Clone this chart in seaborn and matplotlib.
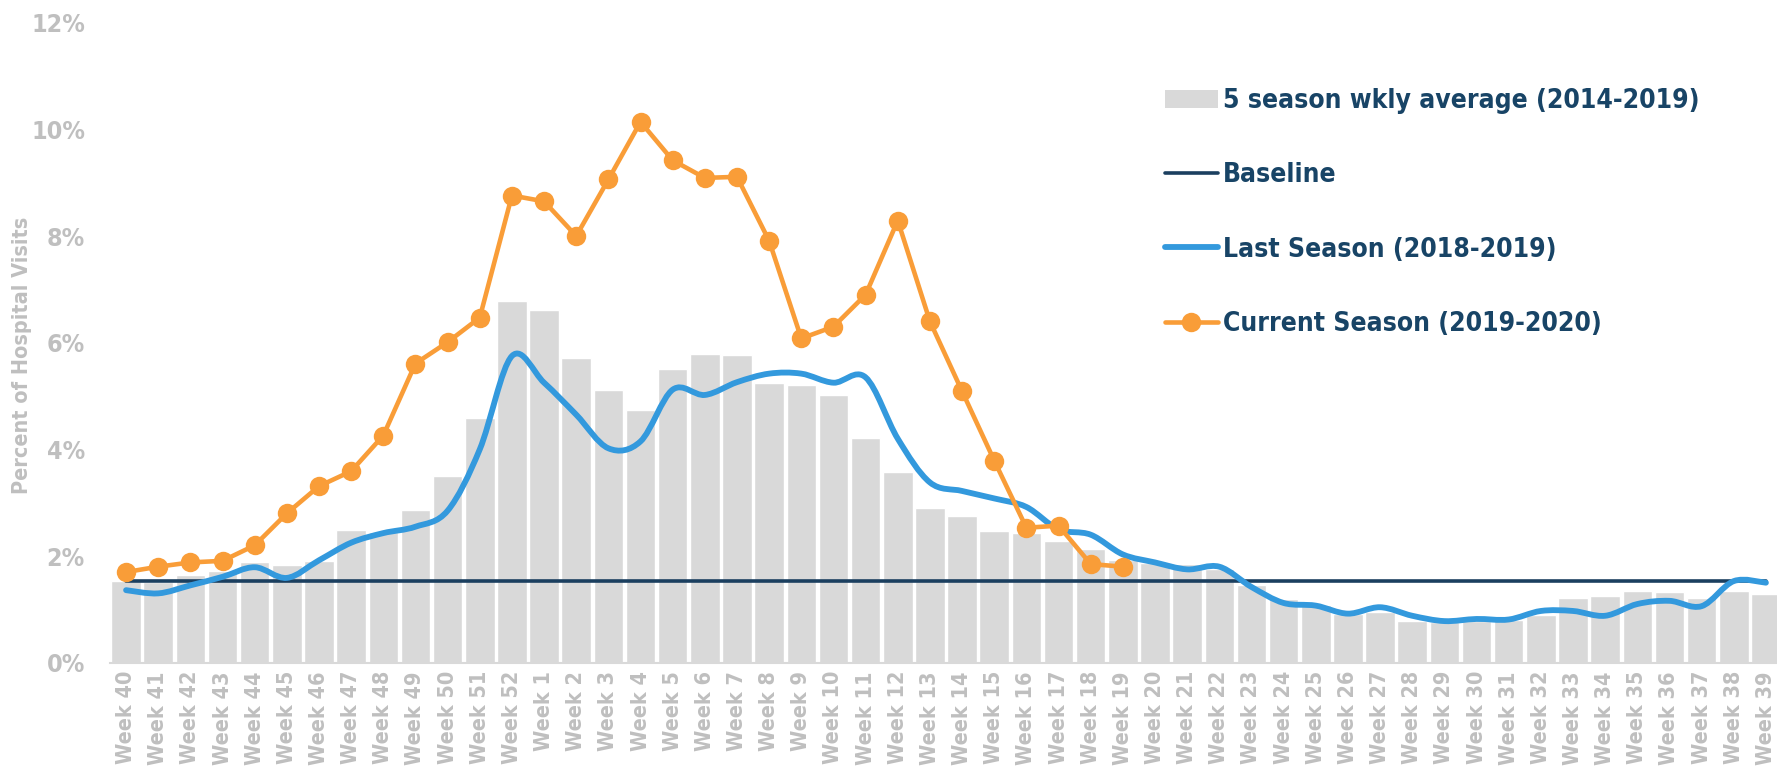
import numpy as np
import pandas as pd
import matplotlib
matplotlib.use("Agg")
import matplotlib.pyplot as plt
import seaborn as sns
from matplotlib import font_manager as fm
from matplotlib.path import Path
from matplotlib.patches import PathPatch, Patch
from matplotlib.lines import Line2D

# ---------------- data ----------------
weeks = [f"Week {w}" for w in list(range(40, 53)) + list(range(1, 40))]

avg_5season = [1.54, 1.52, 1.65, 1.72, 1.88, 1.83, 1.90, 2.48, 2.46, 2.86, 3.51, 4.58,
               6.79, 6.62, 5.72, 5.11, 4.74, 5.50, 5.79, 5.77, 5.25, 5.21, 5.02, 4.22,
               3.57, 2.90, 2.75, 2.47, 2.44, 2.28, 2.14, 1.93, 1.87, 1.86, 1.75, 1.45,
               1.20, 1.09, 0.92, 0.95, 0.78, 0.76, 0.78, 0.80, 0.90, 1.22, 1.25, 1.34,
               1.32, 1.21, 1.35, 1.29]

last_season = [1.36, 1.30, 1.45, 1.61, 1.79, 1.59, 1.92, 2.25, 2.43, 2.55, 2.85, 4.00,
               5.75, 5.25, 4.65, 4.02, 4.15, 5.12, 5.02, 5.26, 5.42, 5.42, 5.25, 5.35,
               4.20, 3.38, 3.22, 3.08, 2.92, 2.50, 2.40, 2.03, 1.88, 1.75, 1.80, 1.42,
               1.12, 1.07, 0.92, 1.04, 0.88, 0.78, 0.82, 0.81, 0.97, 0.97, 0.88, 1.10,
               1.16, 1.06, 1.53, 1.50]

current_season = [1.70, 1.80, 1.88, 1.91, 2.20, 2.80, 3.31, 3.59, 4.26, 5.61, 6.01, 6.47,
                  8.76, 8.65, 8.00, 9.06, 10.14, 9.42, 9.09, 9.11, 7.91, 6.08, 6.30, 6.90,
                  8.29, 6.40, 5.09, 3.79, 2.53, 2.57, 1.85, 1.80]

baseline_value = 1.53

y_ticks = [0, 2, 4, 6, 8, 10, 12]

labels = ["5 season wkly average (2014-2019)", "Baseline",
          "Last Season (2018-2019)", "Current Season (2019-2020)"]

# ---------------- styling ----------------
C_BAR = "#d9d9d9"
C_BASE = "#1b3f5f"
C_BLUE = "#3399dd"
C_ORANGE = "#f99d38"
C_TICK = "#bfbfbf"
C_LEG = "#184466"

sns.set_theme(style="white")
names = {f.name for f in fm.fontManager.ttflist}
if "Liberation Sans Narrow" in names:
    FONT = dict(family="Liberation Sans Narrow", weight="bold")
else:
    FONT = dict(family="DejaVu Sans", weight="bold", stretch="condensed")
plt.rcParams["font.family"] = [FONT["family"], "DejaVu Sans"]

W, H = 1777, 773
fig = plt.figure(figsize=(W / 100, H / 100), dpi=100)
left, right, top, bottom = 110, 1782, 22.7, 662.7
ax = fig.add_axes([left / W, 1 - bottom / H, (right - left) / W, (bottom - top) / H])

n = len(weeks)
pos = np.arange(n)
df_bar = pd.DataFrame({"week": weeks, "value": avg_5season})
sns.barplot(data=df_bar, x="week", y="value", order=weeks, color=C_BAR,
            saturation=1, width=0.92, ax=ax, zorder=1)

# baseline series
df_base = pd.DataFrame({"x": pos, "y": [baseline_value] * n})
sns.lineplot(data=df_base, x="x", y="y", color=C_BASE, lw=2.6, ax=ax, zorder=2)

# last season: smoothed curve (Excel-style) built from the weekly values
ys = np.asarray(last_season)
verts = [(pos[0], ys[0])]
codes = [Path.MOVETO]
for i in range(n - 1):
    p0 = np.array([pos[max(i - 1, 0)], ys[max(i - 1, 0)]])
    p1 = np.array([pos[i], ys[i]])
    p2 = np.array([pos[i + 1], ys[i + 1]])
    p3 = np.array([pos[min(i + 2, n - 1)], ys[min(i + 2, n - 1)]])
    c1 = p1 + (p2 - p0) / 6.0
    c2 = p2 - (p3 - p1) / 6.0
    verts += [tuple(c1), tuple(c2), tuple(p2)]
    codes += [Path.CURVE4] * 3
ax.add_patch(PathPatch(Path(verts, codes), fill=False, edgecolor=C_BLUE, lw=4.2,
                       capstyle="round", joinstyle="round", zorder=3))

# current season
df_cur = pd.DataFrame({"x": pos[:len(current_season)], "y": current_season})
sns.lineplot(data=df_cur, x="x", y="y", color=C_ORANGE, lw=3.3, marker="o",
             markersize=14, markeredgewidth=0, ax=ax, zorder=4)

ax.set_xlim(-0.5, n - 0.5)
ax.set_ylim(0, 12)
ax.set_yticks(y_ticks)
ax.set_yticklabels([f"{t}%" for t in y_ticks])
ax.set_xticks(pos)
ax.set_xticklabels(weeks, rotation=90)
ax.set_xlabel("")
ax.set_ylabel("")
for s in ["top", "right", "left"]:
    ax.spines[s].set_visible(False)
ax.spines["bottom"].set_color(C_BAR)
ax.spines["bottom"].set_linewidth(1.5)
ax.tick_params(axis="both", length=0)
ax.tick_params(axis="x", pad=6)
ax.tick_params(axis="y", pad=18)
for t in ax.get_xticklabels():
    t.set_fontproperties(fm.FontProperties(size=15.5, **FONT))
    t.set_color(C_TICK)
    t.set_va("top")
for t in ax.get_yticklabels():
    t.set_fontproperties(fm.FontProperties(size=18, **FONT))
    t.set_color(C_TICK)
ax.grid(False)

fig.text(22 / W, 1 - 355 / H, "Percent of Hospital Visits", rotation=90,
         ha="center", va="center", color=C_TICK,
         fontproperties=fm.FontProperties(size=15.5, **FONT))

handles = [Patch(facecolor=C_BAR, edgecolor="none"),
           Line2D([], [], color=C_BASE, lw=2.6),
           Line2D([], [], color=C_BLUE, lw=4.2, solid_capstyle="round"),
           Line2D([], [], color=C_ORANGE, lw=3.3, marker="o", markersize=14,
                  markeredgewidth=0, solid_capstyle="round")]
leg = ax.legend(handles, labels, loc="upper left",
                bbox_to_anchor=(1165 / W, 1 - 88 / H), bbox_transform=fig.transFigure,
                frameon=False, prop=fm.FontProperties(size=19, **FONT),
                handlelength=2.0, handletextpad=0.2, labelspacing=1.83,
                borderpad=0, borderaxespad=0)
for t in leg.get_texts():
    t.set_color(C_LEG)

fig.savefig("out.png", dpi=100)
